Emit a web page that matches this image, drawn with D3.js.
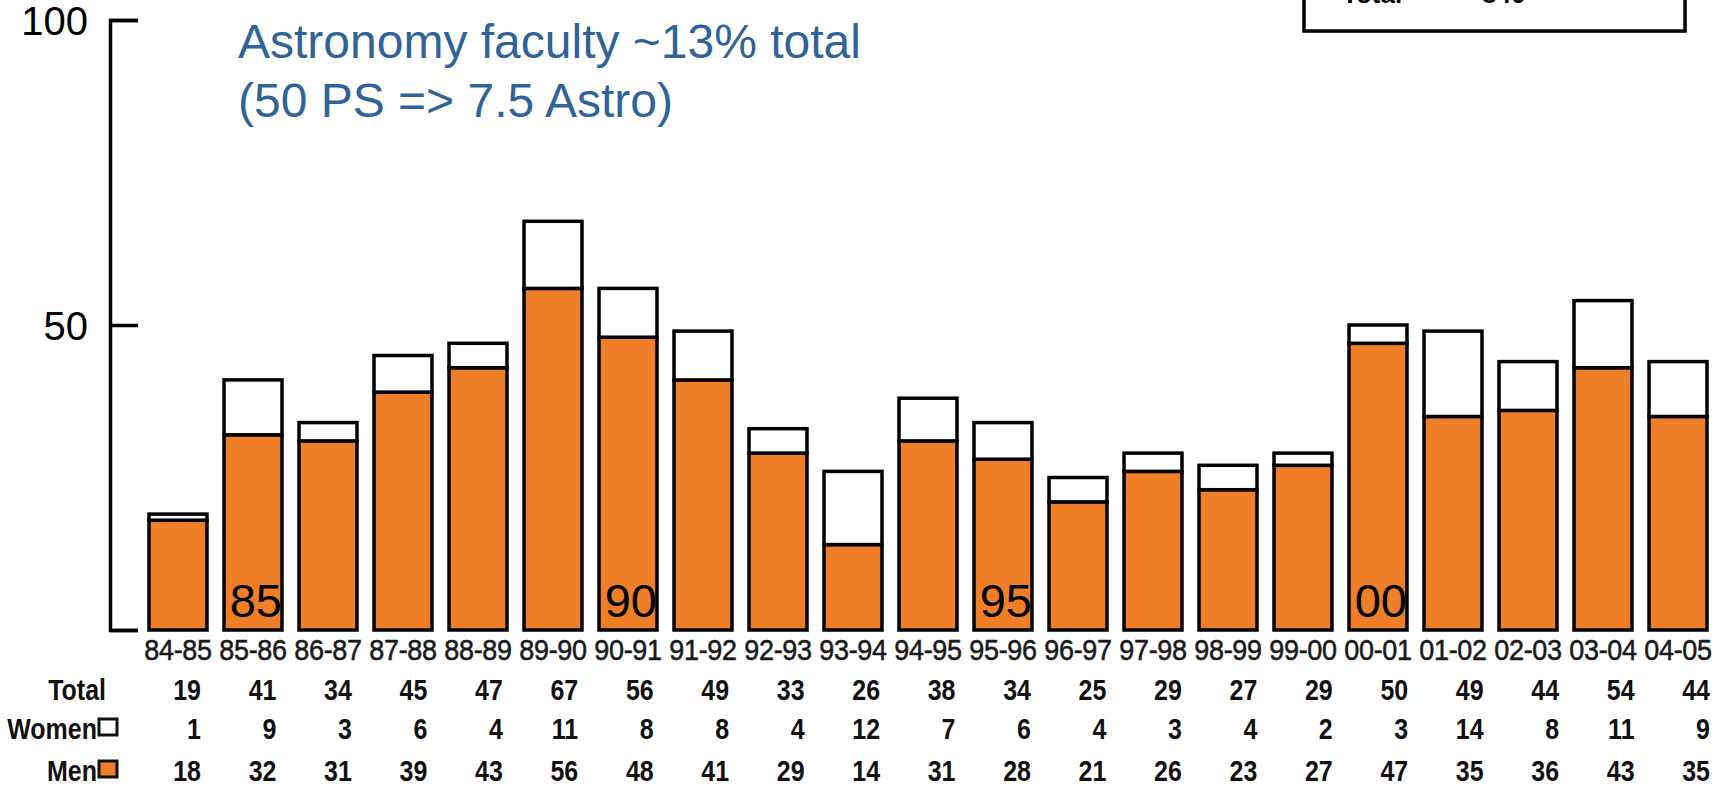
<!DOCTYPE html>
<html>
<head>
<meta charset="utf-8">
<script src="https://cdn.jsdelivr.net/npm/d3@7/dist/d3.min.js"></script>
<style>
  html, body { margin: 0; padding: 0; background: #fff; }
  svg { display: block; }
</style>
</head>
<body>
<svg id="chart" width="1722" height="790"></svg>
<script>
const categories = ["84-85","85-86","86-87","87-88","88-89","89-90","90-91","91-92","92-93","93-94","94-95","95-96","96-97","97-98","98-99","99-00","00-01","01-02","02-03","03-04","04-05"];
const men    = [18,32,31,39,43,56,48,41,29,14,31,28,21,26,23,27,47,35,36,43,35];
const women  = [1,9,3,6,4,11,8,8,4,12,7,6,4,3,4,2,3,14,8,11,9];
const totals = [19,41,34,45,47,67,56,49,33,26,38,34,25,29,27,29,50,49,44,54,44];
const yTicks = [0,50,100];
const yearMarkCats = ["85-86","90-91","95-96","00-01"];
const yearMarkLabels = ["85","90","95","00"];
const titleLines = ["Astronomy faculty ~13% total","(50 PS => 7.5 Astro)"];
const rowLabels = ["Total","Women","Men"];
const legendBoxTexts = ["Total","840"];

const ORANGE = "#ee7e27";
const svg = d3.select("#chart");

const x = d3.scaleBand().domain(categories).range([140.5, 1715.5]).paddingInner(0.227).paddingOuter(0.1135);
const y = d3.scaleLinear().domain([0,100]).range([630, 20]);

// legend box (clipped at top)
const lg = svg.append("g");
lg.append("rect").attr("x",1306).attr("y",-12).attr("width",381).attr("height",45).attr("fill","#ccc");
lg.append("rect").attr("x",1304).attr("y",-14).attr("width",381).attr("height",45)
  .attr("fill","#fff").attr("stroke","#000").attr("stroke-width",3.5);
lg.append("text").attr("x",1342).attr("y",3).text(legendBoxTexts[0])
  .attr("font-family","Liberation Sans, Arial, sans-serif").attr("font-weight","bold").attr("font-size",26);
lg.append("text").attr("x",1482).attr("y",3).text(legendBoxTexts[1])
  .attr("font-family","Liberation Sans, Arial, sans-serif").attr("font-weight","bold").attr("font-size",26);

// title
const t = svg.append("text").attr("font-family","Liberation Sans, Arial, sans-serif")
  .attr("font-size",48).attr("fill","#2f6399");
titleLines.forEach((s,i)=>{
  t.append("tspan").attr("x",238).attr("y",58 + i*59).text(s);
});

// bars
const g = svg.append("g");
categories.forEach((c,i)=>{
  g.append("rect").attr("x",x(c)).attr("width",x.bandwidth())
    .attr("y",y(men[i])).attr("height",y(0)-y(men[i]))
    .attr("fill",ORANGE).attr("stroke","#000").attr("stroke-width",3.5);
  g.append("rect").attr("x",x(c)).attr("width",x.bandwidth())
    .attr("y",y(men[i]+women[i])).attr("height",y(men[i])-y(men[i]+women[i]))
    .attr("fill","#fff").attr("stroke","#000").attr("stroke-width",3.5);
});

// year labels inside bars
yearMarkCats.forEach((c,i)=>{
  svg.append("text").attr("x",x(c)+x.bandwidth()).attr("y",617)
    .attr("text-anchor","end").attr("font-family","Liberation Sans, Arial, sans-serif")
    .attr("font-size",47).attr("fill","#000").text(yearMarkLabels[i]);
});

// y axis
const yAxis = d3.axisLeft(y).tickValues(yTicks).tickSizeInner(-28).tickSizeOuter(-28).tickPadding(22)
  .tickFormat(d => d === 0 ? "" : d);
const ya = svg.append("g").attr("transform","translate(110,0)").call(yAxis);
ya.select(".domain").attr("stroke","#000").attr("stroke-width",3.5);
ya.selectAll(".tick line").attr("stroke","#000").attr("stroke-width",3.5);
ya.selectAll(".tick text").attr("font-family","Liberation Sans, Arial, sans-serif")
  .attr("font-size",40).attr("fill","#000").attr("dy","0.36em");

// category labels
const xAxis = d3.axisBottom(x).tickSize(0).tickPadding(0);
const xa = svg.append("g").attr("transform","translate(0,638)").call(xAxis);
xa.select(".domain").remove();
xa.selectAll(".tick text").attr("font-family","Liberation Sans, Arial, sans-serif")
  .attr("font-size",27).attr("fill","#1a1a1a").attr("dy","0.74em")
  .attr("letter-spacing","-0.3").attr("transform","scale(1,1.08)")
  .attr("stroke","#1a1a1a").attr("stroke-width",0.5);

// table
const tx = d3.scalePoint().domain(categories).range([201, 1710]);
const rows = [totals, women, men];
const rowY = [700, 739, 781];
const tableFont = "Liberation Sans Narrow, Arial Narrow, Liberation Sans, sans-serif";
function tableText(xp, yp, s) {
  svg.append("text").attr("transform",`translate(${xp},${yp}) scale(1,1.2)`)
    .attr("text-anchor","end")
    .attr("font-family",tableFont).attr("font-weight","bold").attr("font-size",25)
    .attr("fill","#111").text(s);
}
rows.forEach((vals, r)=>{
  categories.forEach((c,i)=>{ tableText(tx(c), rowY[r], vals[i]); });
});
// row labels
const labelRight = [106, 97, 97];
rowLabels.forEach((s,r)=>{ tableText(labelRight[r], rowY[r], s); });
// legend squares
[["#fff",1],[ORANGE,2]].forEach(([fill,r])=>{
  svg.append("rect").attr("x",99).attr("y",rowY[r]-20).attr("width",18).attr("height",16)
    .attr("fill",fill).attr("stroke","#111").attr("stroke-width",3);
});
</script>
</body>
</html>
